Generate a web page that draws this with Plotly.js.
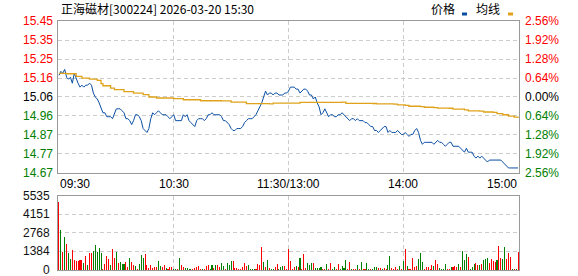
<!DOCTYPE html>
<html>
<head>
<meta charset="utf-8">
<script src="https://cdn.plot.ly/plotly-3.0.1.min.js"></script>
<style>html,body{margin:0;padding:0;background:#fff}#chart{width:578px;height:276px}</style>
</head>
<body>
<div id="chart"></div>
<script>
// ---------- data ----------
const titleText = '正海磁材[300224] 2026-03-20 15:30';
const legendNames = ['价格', '均线'];
const prevClose = 15.06;
const maxPct = 2.56;
const priceLabels = ['15.45','15.35','15.25','15.16','15.06','14.96','14.87','14.77','14.67'];
const pctLabels = ['2.56%','1.92%','1.28%','0.64%','0.00%','0.64%','1.28%','1.92%','2.56%'];
const volMax = 5535;
const volLabels = ['5535','4151','2768','1384','0'];
const timeLabels = ['09:30','10:30','11:30/13:00','14:00','15:00'];
const timeTickMin = [0, 60, 120, 180, 240];

// price per minute (241 points, 09:30 .. 15:00)
const price = [
15.17,15.19,15.18,15.20,15.16,15.15,15.16,15.13,15.18,15.15,
15.13,15.11,15.12,15.11,15.12,15.12,15.13,15.12,15.08,15.06,
15.05,15.03,15.00,14.98,14.98,14.96,14.96,14.96,14.95,14.98,
15.00,15.00,15.00,14.99,14.98,14.95,14.95,14.94,14.92,14.94,
14.97,14.97,14.96,14.94,14.90,14.89,14.88,14.90,14.95,14.98,
14.97,14.98,14.99,14.98,14.97,14.97,14.97,14.96,14.95,14.96,
14.97,14.94,14.94,14.94,14.94,14.97,14.96,14.97,14.94,14.93,
14.92,14.91,14.94,14.95,14.95,14.95,14.94,14.95,14.97,14.97,
14.98,14.97,14.97,14.97,14.97,14.96,14.94,14.94,14.93,14.92,
14.90,14.89,14.89,14.90,14.90,14.90,14.91,14.93,14.94,14.95,
14.95,14.95,14.96,14.97,14.99,15.01,15.03,15.06,15.09,15.07,
15.08,15.08,15.07,15.08,15.08,15.07,15.07,15.07,15.08,15.08,
15.09,15.11,15.11,15.11,15.10,15.10,15.08,15.09,15.10,15.10,
15.09,15.07,15.07,15.05,15.06,15.03,15.01,14.97,14.98,15.00,
14.98,14.96,14.97,14.97,14.96,14.96,14.97,14.97,14.98,14.97,
14.96,14.95,14.94,14.95,14.95,14.94,14.95,14.94,14.94,14.94,
14.93,14.93,14.92,14.91,14.91,14.89,14.89,14.88,14.89,14.90,
14.91,14.91,14.88,14.89,14.88,14.88,14.88,14.89,14.88,14.87,
14.87,14.88,14.87,14.86,14.87,14.87,14.89,14.90,14.88,14.84,
14.82,14.83,14.83,14.83,14.83,14.83,14.82,14.83,14.84,14.83,
14.83,14.82,14.81,14.82,14.83,14.83,14.81,14.81,14.81,14.81,
14.80,14.79,14.78,14.80,14.78,14.78,14.78,14.76,14.75,14.76,
14.75,14.76,14.75,14.74,14.73,14.74,14.74,14.74,14.74,14.74,
14.74,14.74,14.73,14.72,14.71,14.70,14.70,14.70,14.70,14.70,14.70
];

// average price line, read at these minutes
const avgMin = [0,4,9,12,16,20,22,23,27,29,34,39,44,47,51,60,65,74,85,90,98,110,112,124,126,148,150,164,166,175,177,181,183,189,191,196,198,204,206,212,214,220,222,227,229,232,235,238,240];
const avgVal = [15.18,15.178,15.165,15.156,15.151,15.144,15.128,15.117,15.105,15.097,15.087,15.08,15.072,15.06,15.055,15.052,15.046,15.041,15.04,15.034,15.026,15.025,15.029,15.029,15.033,15.034,15.028,15.027,15.025,15.024,15.02,15.017,15.013,15.011,15.008,15.006,15.004,15.003,14.998,14.995,14.99,14.988,14.984,14.982,14.976,14.97,14.963,14.958,14.953];

// volume per minute (241 bars) and direction (1 = up/red, -1 = down/green)
const volume = [
5110,2992,1371,2493,1945,1247,823,1496,748,673,
673,748,748,548,1047,399,1296,1247,1446,1870,
1371,1620,1296,100,449,1047,823,374,1546,873,
1346,499,598,449,449,623,249,873,623,399,
299,100,449,1122,873,1197,374,150,374,150,
249,249,673,299,199,374,150,100,199,249,
100,100,100,873,374,199,175,125,100,100,
100,175,199,299,100,100,100,299,349,100,
349,150,349,349,199,499,299,100,499,349,
673,673,175,175,100,100,199,499,299,374,
100,100,100,100,449,349,1695,623,199,748,
150,100,100,199,449,100,249,299,299,50,
1546,698,100,199,299,224,897,100,1197,150,
548,374,548,548,150,150,150,224,100,100,
449,100,548,100,249,100,449,100,299,150,
748,100,598,100,100,100,374,100,598,100,
100,524,100,100,100,199,199,150,150,100,
150,100,374,1047,150,100,224,100,299,100,
698,1546,299,100,100,897,249,299,848,1247,
598,100,224,224,100,374,299,748,449,150,
100,100,449,100,100,199,199,299,199,449,
249,1421,748,1197,997,100,199,449,499,374,
349,449,748,798,873,499,798,698,623,748,
1795,873,798,1695,798,1296,997,75,100,100,1346
];
const volDir = [
1,-1,1,-1,1,-1,-1,1,1,1,
1,1,1,-1,1,-1,1,1,-1,-1,
-1,-1,-1,1,1,1,1,-1,1,1,
-1,1,-1,-1,-1,1,1,-1,1,1,
-1,1,-1,-1,-1,1,1,1,1,1,
1,1,-1,-1,1,1,-1,1,1,1,
-1,-1,1,-1,1,1,-1,-1,-1,-1,
1,1,1,1,1,-1,1,1,1,-1,
-1,1,-1,1,1,-1,-1,1,-1,-1,
-1,1,1,1,1,1,1,1,1,-1,
-1,-1,-1,1,1,1,1,-1,1,-1,
1,-1,-1,1,1,-1,-1,-1,1,1,
1,1,1,1,-1,1,-1,1,1,1,
-1,-1,-1,1,-1,-1,-1,-1,1,1,
-1,1,1,-1,-1,1,1,-1,-1,-1,
-1,1,1,-1,1,1,-1,1,-1,1,
1,-1,-1,1,-1,-1,-1,1,1,-1,
1,1,-1,-1,1,1,1,1,-1,1,
-1,1,-1,1,1,1,1,1,-1,-1,
-1,1,1,1,1,1,-1,1,1,-1,
-1,-1,-1,1,1,-1,1,1,1,-1,
1,-1,-1,-1,1,-1,-1,-1,1,1,
-1,1,-1,-1,-1,1,1,1,1,-1,
1,1,-1,-1,1,1,1,-1,1,-1,1
];

// ---------- styles ----------
const RED = '#ff0000', GREEN = '#008000', BLACK = '#000000';
const PRICE_COLOR = '#0a4fa3', AVG_COLOR = '#e0a21a';
const GRID = '#cccccc', BORDER = '#999999';
const FONT = 'Liberation Sans, Arial, sans-serif';
const CJK = 'Noto Sans CJK SC, Liberation Sans, sans-serif';

const minutes = price.map((_, i) => i);
const volMinutes = volume.map((_, i) => i);
const pLo = prevClose * (1 - maxPct / 100);
const pHi = prevClose * (1 + maxPct / 100);
const nT = priceLabels.length - 1;
const priceTickPos = priceLabels.map((_, k) => pHi - (pHi - pLo) * k / nT);
const volTickPos = volLabels.map((_, k) => volMax - volMax * k / (volLabels.length - 1));

const traces = [
  {x: minutes, y: price, type: 'scatter', mode: 'lines', line: {color: PRICE_COLOR, width: 1}, xaxis: 'x', yaxis: 'y', hoverinfo: 'skip'},
  {x: avgMin, y: avgVal, type: 'scatter', mode: 'lines', line: {color: AVG_COLOR, width: 1.3, shape: 'hv'}, xaxis: 'x', yaxis: 'y', hoverinfo: 'skip'},
  {x: volMinutes, y: volume, type: 'bar', width: 0.55, marker: {color: volDir.map(d => d > 0 ? RED : GREEN), line: {width: 0}}, xaxis: 'x2', yaxis: 'y2', hoverinfo: 'skip'}
];

const annotations = [];
const midIdx = Math.floor(nT / 2);
priceLabels.forEach((t, k) => {
  const c = k < midIdx ? RED : (k === midIdx ? BLACK : GREEN);
  annotations.push({xref: 'paper', yref: 'y', x: 0, y: priceTickPos[k], xanchor: 'right', yanchor: 'middle', xshift: -3, text: t, showarrow: false, font: {family: FONT, size: 12, color: c}});
  annotations.push({xref: 'paper', yref: 'y', x: 1, y: priceTickPos[k], xanchor: 'left', yanchor: 'middle', xshift: 4, text: pctLabels[k], showarrow: false, font: {family: FONT, size: 12, color: c}});
});
volLabels.forEach((t, k) => {
  annotations.push({xref: 'paper', yref: 'y2', x: 0, y: volTickPos[k], xanchor: 'right', yanchor: 'middle', xshift: -6, text: t, showarrow: false, font: {family: FONT, size: 12, color: '#111'}});
});
timeLabels.forEach((t, k) => {
  const anchor = k === 0 ? 'left' : (k === timeLabels.length - 1 ? 'right' : 'center');
  const xv = k === 0 ? -0.5 : (k === timeLabels.length - 1 ? 240.5 : timeTickMin[k]);
  annotations.push({xref: 'x', yref: 'paper', x: xv, y: 0.3896, xanchor: anchor, yanchor: 'top', yshift: -2, text: t, showarrow: false, font: {family: FONT, size: 12, color: '#000'}});
});
annotations.push({xref: 'paper', yref: 'paper', x: 0, y: 1.05, xanchor: 'left', yanchor: 'middle', xshift: 1, text: titleText, showarrow: false, font: {family: CJK, size: 12, color: '#000'}});
const px = v => (v - 58) / 461;
annotations.push({xref: 'paper', yref: 'paper', x: px(443), y: 1.05, xanchor: 'center', yanchor: 'middle', text: legendNames[0], showarrow: false, font: {family: CJK, size: 12, color: '#000'}});
annotations.push({xref: 'paper', yref: 'paper', x: px(488), y: 1.05, xanchor: 'center', yanchor: 'middle', text: legendNames[1], showarrow: false, font: {family: CJK, size: 12, color: '#000'}});

const py = v => (270 - v) / 249;
const shapes = [
  {type: 'rect', xref: 'paper', yref: 'paper', x0: px(462), x1: px(467), y0: py(15.5), y1: py(12.5), fillcolor: PRICE_COLOR, line: {width: 0}},
  {type: 'rect', xref: 'paper', yref: 'paper', x0: px(508), x1: px(513), y0: py(15.5), y1: py(12.5), fillcolor: AVG_COLOR, line: {width: 0}}
];

const axX = {range: [-0.5, 240.5], tickvals: timeTickMin.slice(1, -1), showticklabels: false, ticks: '', showgrid: true, gridcolor: GRID, griddash: '4px,3px', gridwidth: 1, zeroline: false, showline: true, mirror: true, linecolor: BORDER, linewidth: 1, fixedrange: true};

const layout = {
  width: 578, height: 276,
  margin: {l: 58, r: 59, t: 21, b: 6, pad: 0},
  paper_bgcolor: '#fff', plot_bgcolor: '#fff',
  showlegend: false,
  xaxis: Object.assign({}, axX, {anchor: 'y', domain: [0, 1]}),
  yaxis: {domain: [0.3896, 1], range: [pLo, pHi], tickvals: priceTickPos.slice(1, -1), showticklabels: false, ticks: '', showgrid: true, gridcolor: GRID, griddash: '4px,3px', zeroline: false, showline: true, mirror: true, linecolor: BORDER, linewidth: 1, anchor: 'x'},
  xaxis2: Object.assign({}, axX, {anchor: 'y2', domain: [0, 1]}),
  yaxis2: {domain: [0, 0.2972], range: [0, volMax], tickvals: volTickPos.slice(1, -1), showticklabels: false, ticks: '', showgrid: true, gridcolor: GRID, griddash: '4px,3px', zeroline: false, showline: true, mirror: true, linecolor: BORDER, linewidth: 1, anchor: 'x2'},
  bargap: 0,
  annotations: annotations,
  shapes: shapes
};

Plotly.newPlot('chart', traces, layout, {staticPlot: true, displayModeBar: false});
</script>
</body>
</html>
